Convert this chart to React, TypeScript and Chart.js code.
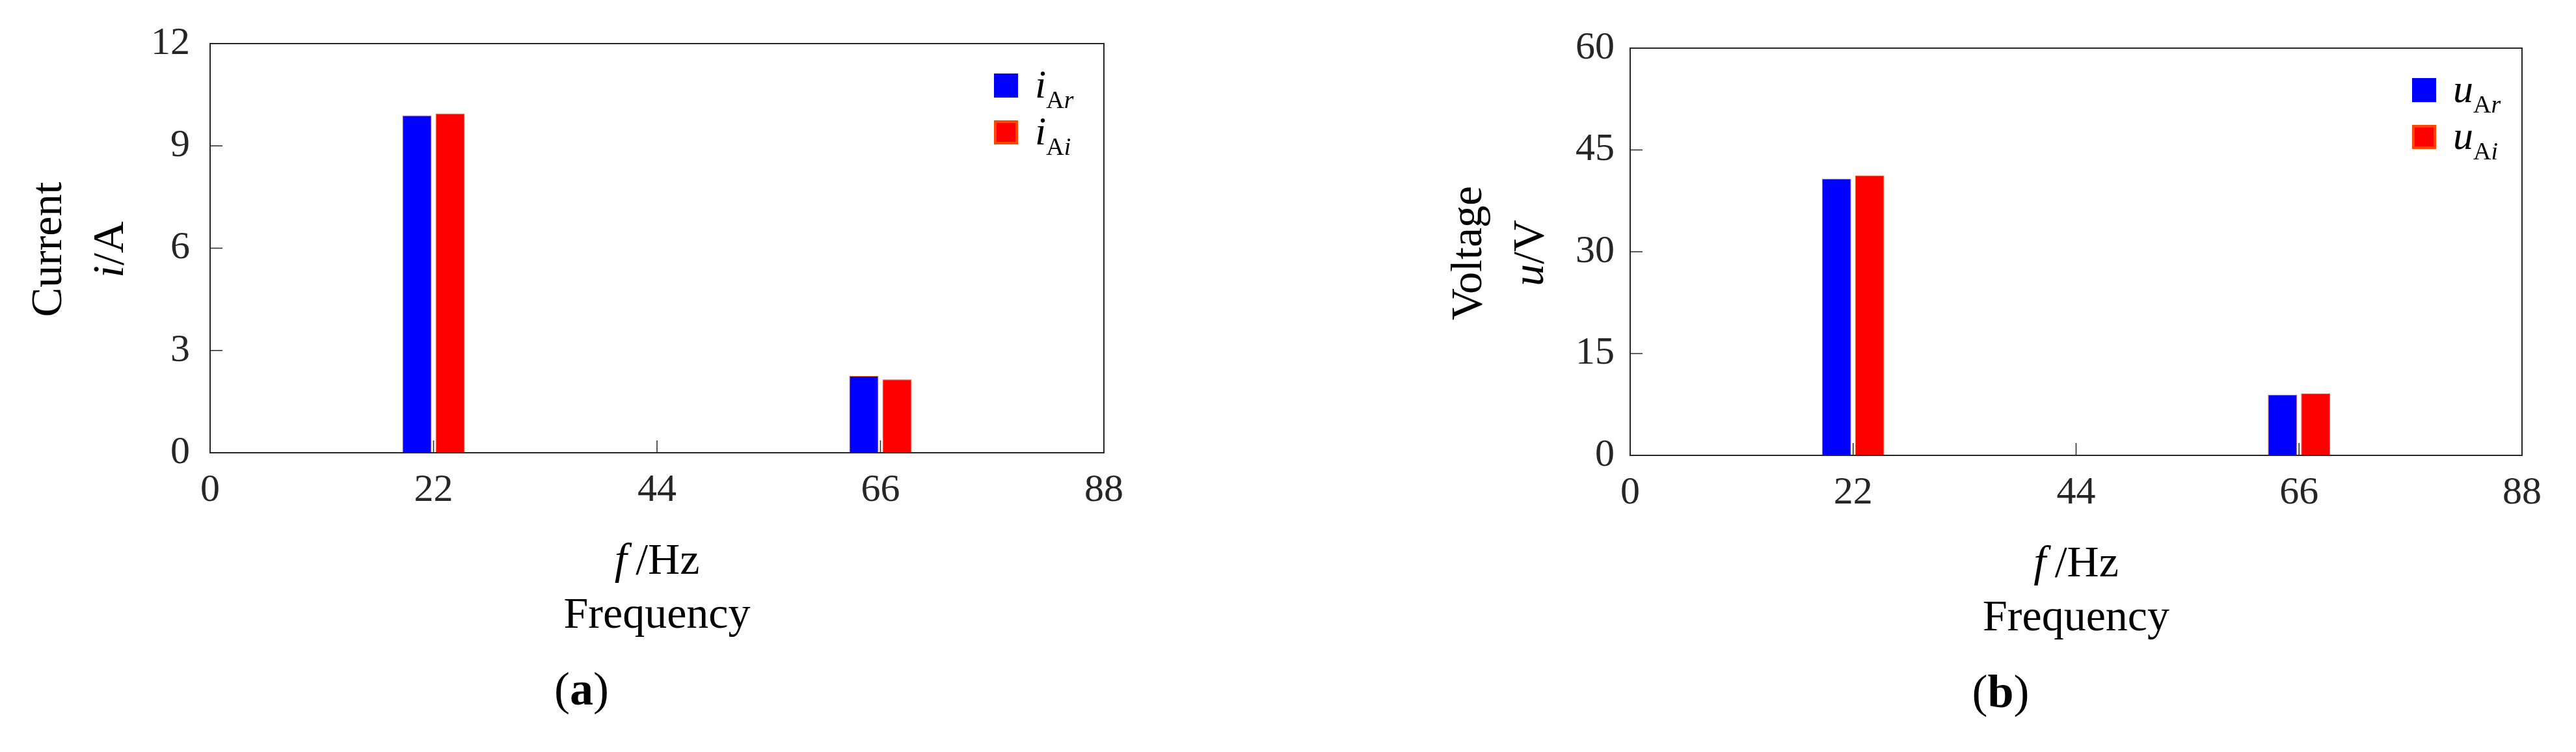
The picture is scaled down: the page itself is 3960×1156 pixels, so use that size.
import React, { useEffect, useRef } from 'react';
import { Chart, registerables } from 'chart.js';

Chart.register(...registerables);

// ---------- data ----------
const frequencies = [22, 66];
const xTickValues = [0, 22, 44, 66, 88];

const currentReal = [9.89, 2.25];
const currentImag = [9.95, 2.15];
const currentTickValues = [0, 3, 6, 9, 12];

const voltageReal = [40.75, 8.94];
const voltageImag = [41.25, 9.12];
const voltageTickValues = [0, 15, 30, 45, 60];

// ---------- styles ----------
const SERIF = '"Liberation Serif", "Times New Roman", serif';
const AXIS = '#262626';
const BLUE = '#0000FF';
const RED = '#FF0000';
const EDGE = '#E2661E';
const LEGEND_EDGE = '#FF4500';

type Run = { t: string; italic?: boolean; bold?: boolean; size: number; dy?: number };

function fontOf(r: Run) {
  return `${r.italic ? 'italic ' : ''}${r.bold ? 'bold ' : ''}${r.size}px ${SERIF}`;
}

function drawRuns(ctx: CanvasRenderingContext2D, runs: Run[], x: number, y: number, align: 'center' | 'left') {
  ctx.textAlign = 'left';
  ctx.textBaseline = 'alphabetic';
  const ws = runs.map((r) => {
    ctx.font = fontOf(r);
    return ctx.measureText(r.t).width;
  });
  const total = ws.reduce((a, b) => a + b, 0);
  let cx = align === 'center' ? x - total / 2 : x;
  runs.forEach((r, i) => {
    ctx.font = fontOf(r);
    ctx.fillText(r.t, cx, y + (r.dy || 0));
    cx += ws[i];
  });
}

type Panel = {
  key: string;
  canvasLeft: number;
  padTop: number;
  padRight: number;
  yAxisWidth: number;
  xAxisHeight: number;
  yLabelPad: number;
  real: number[];
  imag: number[];
  yTicks: number[];
  yTitle: string;
  yUnit: Run[];
  letter: string;
  caption: string;
};

const TITLE = 68;

const panels: Panel[] = [
  {
    key: 'a',
    canvasLeft: 0,
    padTop: 67,
    padRight: 283,
    yAxisWidth: 323,
    xAxisHeight: 460,
    yLabelPad: 31,
    real: currentReal,
    imag: currentImag,
    yTicks: currentTickValues,
    yTitle: 'Current',
    yUnit: [
      { t: 'i', italic: true, size: TITLE },
      { t: '/A', size: TITLE },
    ],
    letter: 'i',
    caption: 'a',
  },
  {
    key: 'b',
    canvasLeft: 1980,
    padTop: 74,
    padRight: 83,
    yAxisWidth: 526,
    xAxisHeight: 456,
    yLabelPad: 24,
    real: voltageReal,
    imag: voltageImag,
    yTicks: voltageTickValues,
    yTitle: 'Voltage',
    yUnit: [
      { t: 'u', italic: true, size: TITLE },
      { t: '/V', size: TITLE },
    ],
    letter: 'u',
    caption: 'b',
  },
];

function makeDecor(p: Panel) {
  return {
    id: 'decor_' + p.key,
    beforeDatasetsDraw(chart: any) {
      const { ctx, chartArea: a, scales } = chart;
      ctx.save();
      ctx.strokeStyle = AXIS;
      ctx.lineWidth = 1.5;
      ctx.beginPath();
      scales.x.ticks.forEach((t: any) => {
        const px = scales.x.getPixelForValue(t.value);
        ctx.moveTo(px, a.bottom);
        ctx.lineTo(px, a.bottom - 19);
      });
      scales.y.ticks.forEach((t: any) => {
        const py = scales.y.getPixelForValue(t.value);
        ctx.moveTo(a.left, py);
        ctx.lineTo(a.left + 19, py);
      });
      ctx.stroke();
      ctx.restore();
    },
    afterDraw(chart: any) {
      const { ctx, chartArea: a } = chart;
      ctx.save();
      // frame
      ctx.strokeStyle = AXIS;
      ctx.lineWidth = 2;
      ctx.strokeRect(a.left, a.top, a.right - a.left, a.bottom - a.top);

      // legend
      const boxSize = 37;
      const boxRight = a.right - 132;
      const boxLeft = boxRight - boxSize;
      const entries = [
        { fill: BLUE, stroke: null as string | null, sub: [{ t: 'A' }, { t: 'r', italic: true }] },
        { fill: RED, stroke: LEGEND_EDGE, sub: [{ t: 'A' }, { t: 'i', italic: true }] },
      ];
      entries.forEach((e, i) => {
        const top = a.top + 46 + i * 72;
        ctx.fillStyle = e.fill;
        ctx.fillRect(boxLeft, top, boxSize, boxSize);
        if (e.stroke) {
          ctx.strokeStyle = e.stroke;
          ctx.lineWidth = 4;
          ctx.strokeRect(boxLeft + 2, top + 2, boxSize - 4, boxSize - 4);
        }
        ctx.fillStyle = '#000';
        const runs: Run[] = [
          { t: p.letter, italic: true, size: 62 },
          ...e.sub.map((s) => ({ t: s.t, italic: (s as any).italic, size: 38, dy: 16 })),
        ];
        drawRuns(ctx, runs, boxRight + 26, top + boxSize, 'left');
      });

      // y title (rotated, two lines)
      const midY = (a.top + a.bottom) / 2 + 2;
      ctx.fillStyle = '#000';
      ctx.save();
      ctx.translate(a.left - 229, midY);
      ctx.rotate(-Math.PI / 2);
      drawRuns(ctx, [{ t: p.yTitle, size: TITLE }], 0, 0, 'center');
      ctx.restore();
      ctx.save();
      ctx.translate(a.left - 134, midY);
      ctx.rotate(-Math.PI / 2);
      drawRuns(ctx, p.yUnit, 0, 0, 'center');
      ctx.restore();

      // x title
      const midX = (a.left + a.right) / 2;
      drawRuns(
        ctx,
        [
          { t: 'f', italic: true, size: TITLE },
          { t: '\u2009/Hz', size: TITLE },
        ],
        midX,
        a.bottom + 186,
        'center'
      );
      drawRuns(ctx, [{ t: 'Frequency', size: TITLE }], midX, a.bottom + 269, 'center');

      // caption
      drawRuns(
        ctx,
        [
          { t: '(', size: 72 },
          { t: p.caption, bold: true, size: 72 },
          { t: ')', size: 72 },
        ],
        midX - 116,
        a.bottom + 387,
        'center'
      );
      ctx.restore();
    },
  };
}

function PanelChart({ p }: { p: Panel }) {
  const ref = useRef<HTMLCanvasElement>(null);
  useEffect(() => {
    let chart: Chart | null = null;
    let cancelled = false;
    const build = () => {
      if (cancelled || !ref.current) return;
      chart = new Chart(ref.current as HTMLCanvasElement, {
        type: 'bar',
        data: {
          datasets: [
            {
              label: p.letter + '_Ar',
              data: frequencies.map((f, i) => ({ x: f, y: p.real[i] })),
              backgroundColor: BLUE,
              borderColor: EDGE,
              borderWidth: 1,
              categoryPercentage: 0.297,
              barPercentage: 0.88,
            },
            {
              label: p.letter + '_Ai',
              data: frequencies.map((f, i) => ({ x: f, y: p.imag[i] })),
              backgroundColor: RED,
              borderColor: EDGE,
              borderWidth: 1,
              categoryPercentage: 0.297,
              barPercentage: 0.88,
            },
          ],
        } as any,
        options: {
          animation: false,
          responsive: false,
          devicePixelRatio: 1,
          layout: { padding: { top: p.padTop, right: p.padRight, left: 0, bottom: 0 } },
          plugins: {
            legend: { display: false },
            tooltip: { enabled: false },
          },
          scales: {
            x: {
              type: 'linear',
              min: xTickValues[0],
              max: xTickValues[xTickValues.length - 1],
              offset: false,
              grid: { display: false, drawTicks: false, offset: false },
              border: { display: false },
              afterBuildTicks: (s: any) => {
                s.ticks = xTickValues.map((v) => ({ value: v }));
              },
              afterFit: (s: any) => {
                s.height = p.xAxisHeight;
              },
              ticks: {
                color: AXIS,
                font: { family: SERIF, size: 60 },
                padding: 22,
                maxRotation: 0,
                autoSkip: false,
              },
            },
            y: {
              type: 'linear',
              min: p.yTicks[0],
              max: p.yTicks[p.yTicks.length - 1],
              grid: { display: false, drawTicks: false },
              border: { display: false },
              afterBuildTicks: (s: any) => {
                s.ticks = p.yTicks.map((v) => ({ value: v }));
              },
              afterFit: (s: any) => {
                s.width = p.yAxisWidth;
              },
              ticks: {
                color: AXIS,
                font: { family: SERIF, size: 60 },
                padding: p.yLabelPad,
              },
            },
          },
        } as any,
        plugins: [makeDecor(p)],
      });
    };
    const fonts = (document as any).fonts;
    if (fonts && fonts.load) {
      Promise.all([
        fonts.load(`60px ${SERIF}`),
        fonts.load(`italic 60px ${SERIF}`),
        fonts.load(`bold 60px ${SERIF}`),
      ])
        .catch(() => undefined)
        .then(build);
    } else {
      build();
    }
    return () => {
      cancelled = true;
      if (chart) chart.destroy();
    };
  }, [p]);
  return (
    <div style={{ position: 'absolute', left: p.canvasLeft, top: 0, width: 1980, height: 1156 }}>
      <canvas ref={ref} width={1980} height={1156} style={{ display: 'block', width: 1980, height: 1156 }} />
    </div>
  );
}

export default function App() {
  return (
    <div style={{ position: 'absolute', left: 0, top: 0, width: 3960, height: 1156, background: '#fff' }}>
      {panels.map((p) => (
        <PanelChart key={p.key} p={p} />
      ))}
    </div>
  );
}
